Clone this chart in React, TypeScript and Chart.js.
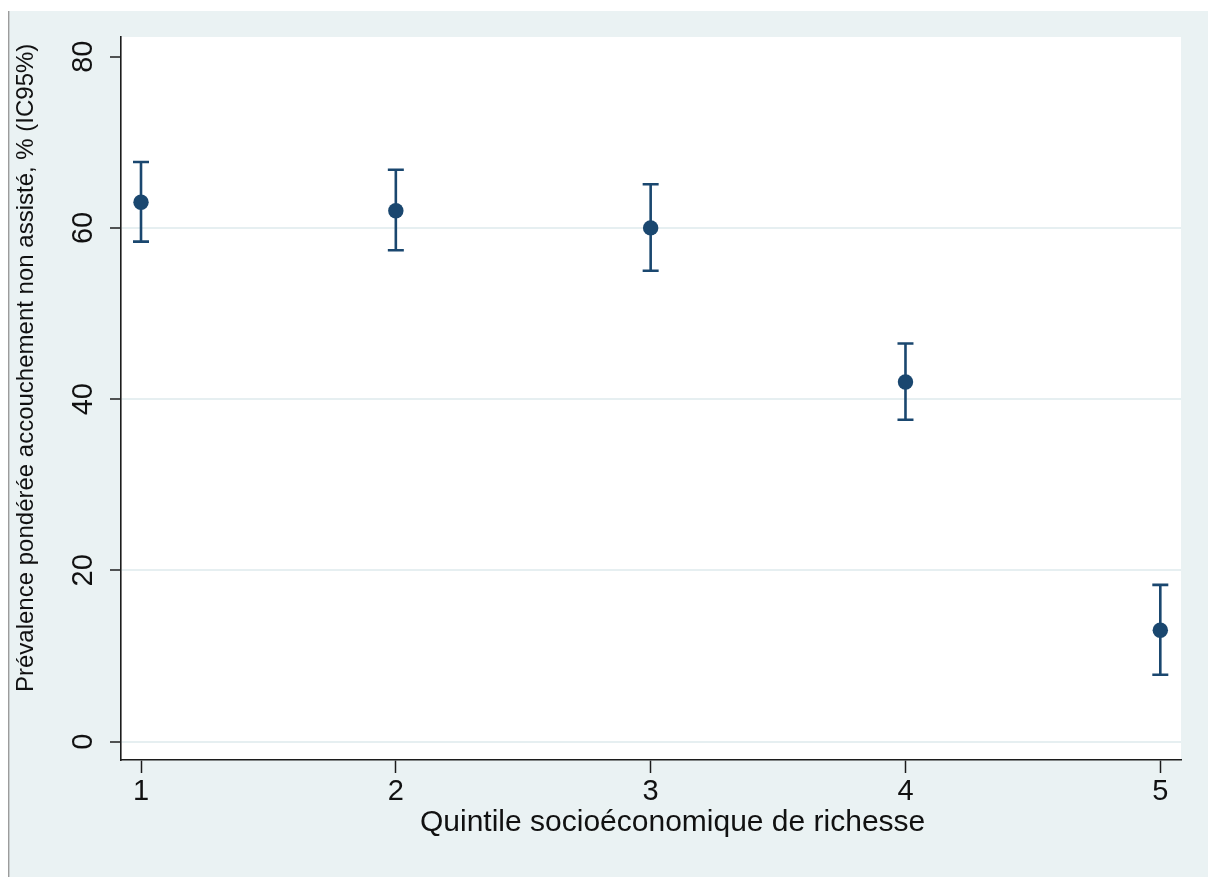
import React, { useEffect, useRef } from 'react';
import { Chart, registerables } from 'chart.js';

Chart.register(...registerables);

// ---- Data ----
const quintiles = [1, 2, 3, 4, 5];
const prevalence = [63.0, 62.0, 60.0, 42.0, 13.0];
const ciLower = [58.4, 57.4, 55.0, 37.6, 7.8];
const ciUpper = [67.7, 66.8, 65.1, 46.5, 18.3];
const xTickValues = [1, 2, 3, 4, 5];
const yTickValues = [0, 20, 40, 60, 80];
const xTitle = 'Quintile socioéconomique de richesse';
const yTitle = 'Prévalence pondérée accouchement non assisté, % (IC95%)';

// ---- Style ----
const NAVY = '#1a476f';
const BG = '#eaf2f3';
const GRID = '#e6eff1';
const AXIS = '#1c1c1c';
const TEXT = '#111111';
const FONT = '"Liberation Sans", Arial, Helvetica, sans-serif';

const bgPlugin = {
  id: 'stataBackground',
  beforeDraw(chart: any) {
    const { ctx, chartArea: a, width, height } = chart;
    ctx.save();
    ctx.fillStyle = '#ffffff';
    ctx.fillRect(0, 0, width, height);
    ctx.fillStyle = BG;
    ctx.fillRect(9, 11, width - 9, height - 11);
    ctx.fillStyle = '#9c9c9c';
    ctx.fillRect(8, 11, 1.4, height - 11);
    ctx.fillStyle = '#ffffff';
    ctx.fillRect(a.left, a.top, a.right - a.left, a.bottom - a.top);
    ctx.restore();
  },
};

const errorBarPlugin = {
  id: 'errorBars',
  beforeDatasetsDraw(chart: any) {
    const { ctx } = chart;
    const x = chart.scales.x;
    const y = chart.scales.y;
    ctx.save();
    ctx.strokeStyle = NAVY;
    ctx.lineWidth = 2.6;
    ctx.lineCap = 'butt';
    quintiles.forEach((q, i) => {
      const px = x.getPixelForValue(q);
      const yl = y.getPixelForValue(ciLower[i]);
      const yu = y.getPixelForValue(ciUpper[i]);
      ctx.beginPath();
      ctx.moveTo(px, yl);
      ctx.lineTo(px, yu);
      ctx.moveTo(px - 8, yl);
      ctx.lineTo(px + 8, yl);
      ctx.moveTo(px - 8, yu);
      ctx.lineTo(px + 8, yu);
      ctx.stroke();
    });
    ctx.restore();
  },
};

const textPlugin = {
  id: 'stataText',
  afterDraw(chart: any) {
    const { ctx } = chart;
    const y = chart.scales.y;
    ctx.save();
    ctx.fillStyle = TEXT;
    // y tick labels (rotated, Stata style)
    ctx.font = `29px ${FONT}`;
    yTickValues.forEach((v) => {
      const py = y.getPixelForValue(v);
      ctx.save();
      ctx.translate(92, py);
      ctx.rotate(-Math.PI / 2);
      ctx.textAlign = 'center';
      ctx.textBaseline = 'alphabetic';
      ctx.fillText(String(v), 0, 0);
      ctx.restore();
    });
    // y title
    ctx.font = `24px ${FONT}`;
    ctx.save();
    ctx.translate(33, 692);
    ctx.rotate(-Math.PI / 2);
    ctx.textAlign = 'left';
    ctx.textBaseline = 'alphabetic';
    ctx.fillText(yTitle, 0, 0);
    ctx.restore();
    // x title
    ctx.font = `30px ${FONT}`;
    ctx.textAlign = 'left';
    ctx.textBaseline = 'alphabetic';
    ctx.fillText(xTitle, 420, 831);
    ctx.restore();
  },
};

export default function App() {
  const canvasRef = useRef<HTMLCanvasElement | null>(null);

  useEffect(() => {
    if (!canvasRef.current) return;
    const chart = new Chart(canvasRef.current, {
      type: 'scatter',
      data: {
        datasets: [
          {
            data: quintiles.map((q, i) => ({ x: q, y: prevalence[i] })),
            backgroundColor: NAVY,
            borderColor: NAVY,
            borderWidth: 0,
            pointRadius: 7.7,
            pointHoverRadius: 7.7,
            showLine: false,
          },
        ],
      },
      options: {
        responsive: false,
        animation: false,
        devicePixelRatio: 1,
        events: [],
        layout: { padding: { left: 0, right: 27, top: 37, bottom: 0 } },
        plugins: { legend: { display: false }, tooltip: { enabled: false } },
        scales: {
          x: {
            type: 'linear',
            min: 0.9215,
            max: 5.0812,
            afterBuildTicks: (s: any) => {
              s.ticks = xTickValues.map((v) => ({ value: v }));
            },
            afterFit: (s: any) => {
              s.height = 117;
            },
            grid: {
              drawOnChartArea: false,
              drawTicks: true,
              tickLength: 13,
              tickColor: AXIS,
              tickWidth: 1.5,
            },
            border: { display: true, color: AXIS, width: 1.6 },
            ticks: {
              font: { family: FONT, size: 29 },
              color: TEXT,
              padding: 2,
              maxRotation: 0,
              autoSkip: false,
              callback: (v: any) => String(v),
            },
          },
          y: {
            type: 'linear',
            min: -2.15,
            max: 82.3,
            afterBuildTicks: (s: any) => {
              s.ticks = yTickValues.map((v) => ({ value: v }));
            },
            afterFit: (s: any) => {
              s.width = 121;
            },
            grid: {
              color: (c: any) => (c.tick && c.tick.value === 80 ? 'rgba(0,0,0,0)' : GRID),
              lineWidth: 2,
              drawTicks: true,
              tickLength: 11,
              tickColor: AXIS,
              tickWidth: 1.5,
            },
            border: { display: true, color: AXIS, width: 1.6 },
            ticks: { display: false },
          },
        },
      },
      plugins: [bgPlugin, errorBarPlugin, textPlugin],
    } as any);
    return () => chart.destroy();
  }, []);

  return (
    <div style={{ position: 'fixed', left: 0, top: 0, width: 1208, height: 877 }}>
      <canvas ref={canvasRef} width={1208} height={877} style={{ display: 'block' }} />
    </div>
  );
}
